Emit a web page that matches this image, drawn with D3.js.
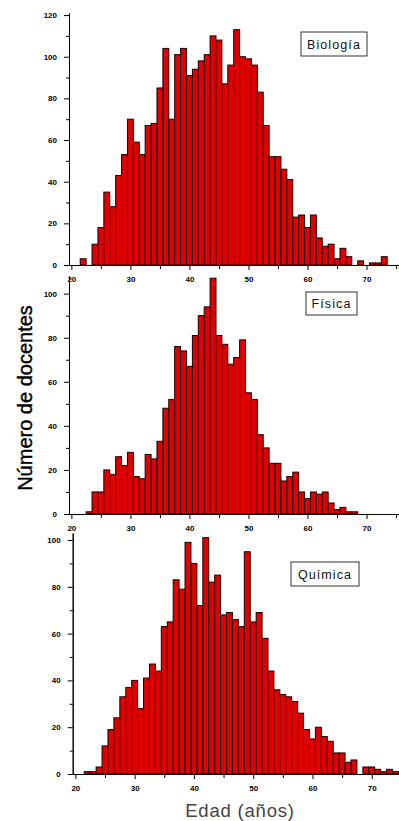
<!DOCTYPE html>
<html>
<head>
<meta charset="utf-8">
<script src="https://cdn.jsdelivr.net/npm/d3@7"></script>
<style>
  body { margin: 0; background: #fff; }
  svg { display: block; }
  .tick text { font-family: "Liberation Sans", Arial, sans-serif; font-size: 8px; font-weight: bold; fill: #000; }
</style>
</head>
<body>
<div id="chart"></div>
<script>
// edades (bins de 1 año)
const edades = [21, 22, 23, 24, 25, 26, 27, 28, 29, 30, 31, 32, 33, 34, 35, 36, 37, 38, 39, 40,
  41, 42, 43, 44, 45, 46, 47, 48, 49, 50, 51, 52, 53, 54, 55, 56, 57, 58, 59, 60,
  61, 62, 63, 64, 65, 66, 67, 68, 69, 70, 71, 72, 73, 74, 75];

const biologia = [0, 3, 0, 10, 18, 35, 28, 43, 53, 70, 59, 53, 67, 68, 85, 104, 70, 101, 104, 91,
  94, 98, 101, 110, 108, 87, 96, 113, 100, 99, 96, 83, 67, 52, 52, 46, 41, 23, 24, 18,
  24, 13, 9, 10, 3, 8, 4, 0, 2, 0, 1, 1, 4, 0, 0];

const fisica = [0, 0, 1, 10, 10, 20, 18, 26, 22, 28, 17, 16, 27, 25, 33, 48, 52, 76, 74, 67,
  81, 90, 94, 107, 81, 77, 68, 71, 79, 55, 52, 36, 30, 23, 23, 15, 17, 19, 10, 7,
  10, 9, 10, 5, 2, 3, 1, 1, 0, 0, 0, 0, 0, 0, 0];

const quimica = [0, 1, 1, 3, 12, 19, 24, 33, 37, 40, 28, 41, 47, 44, 63, 65, 83, 79, 99, 90,
  72, 101, 82, 85, 68, 69, 66, 63, 95, 65, 69, 58, 44, 36, 34, 33, 31, 26, 19, 15,
  20, 16, 14, 9, 9, 5, 6, 0, 3, 3, 2, 1, 2, 1, 0];

const ticksX = [20, 30, 40, 50, 60, 70];
const ticksXMenor = [25, 35, 45, 55, 65, 75];
const ticksYBio = [0, 20, 40, 60, 80, 100, 120];
const ticksY = [0, 20, 40, 60, 80, 100];

const W = 399, H = 821;

const paneles = [
  { nombre: 'Biología', valores: biologia, ticks: ticksYBio, yMax: 121,
    x0: 69, xDom: [19.6, 75.5], top: 13, bottom: 265,
    caja: { x: 301, y: 32, w: 66, h: 24 } },
  { nombre: 'Física', valores: fisica, ticks: ticksY, yMax: 108,
    x0: 69, xDom: [19.6, 75.5], top: 276, bottom: 514,
    caja: { x: 306, y: 292, w: 51, h: 23 } },
  { nombre: 'Química', valores: quimica, ticks: ticksY, yMax: 103,
    x0: 72.7, xDom: [19.55, 74.6], top: 533, bottom: 774,
    caja: { x: 291, y: 562, w: 68, h: 24 } }
];

const svg = d3.select('#chart').append('svg')
  .attr('width', W)
  .attr('height', H);

paneles.forEach(p => {
  const x = d3.scaleLinear().domain(p.xDom).range([p.x0, W]);
  const y = d3.scaleLinear().domain([0, p.yMax]).range([p.bottom, p.top]);
  const g = svg.append('g');

  const datos = edades.map((e, i) => ({ edad: e, n: p.valores[i] })).filter(d => d.n > 0);

  g.append('g').selectAll('rect')
    .data(datos)
    .enter()
    .append('rect')
    .attr('x', d => x(d.edad - 0.5))
    .attr('width', d => x(d.edad + 0.5) - x(d.edad - 0.5))
    .attr('y', d => y(d.n))
    .attr('height', d => y(0) - y(d.n))
    .style('fill', '#e00000')
    .style('stroke', '#200000')
    .style('stroke-width', 1);

  // eje y
  const menoresY = d3.range(p.ticks.length - 1).map(i => p.ticks[i] + 10)
    .filter(v => v < p.yMax);
  g.append('g')
    .attr('transform', 'translate(' + p.x0 + ',0)')
    .call(d3.axisLeft(y).tickValues(menoresY).tickSize(3).tickSizeOuter(0).tickFormat(''));
  g.append('g')
    .attr('transform', 'translate(' + p.x0 + ',0)')
    .call(d3.axisLeft(y).tickValues(p.ticks).tickSize(5).tickSizeOuter(0).tickPadding(7));

  // eje x
  g.append('g')
    .attr('transform', 'translate(0,' + p.bottom + ')')
    .call(d3.axisBottom(x).tickValues(ticksXMenor).tickSize(4).tickSizeOuter(0).tickFormat(''));
  g.append('g')
    .attr('transform', 'translate(0,' + p.bottom + ')')
    .call(d3.axisBottom(x).tickValues(ticksX).tickSize(5).tickSizeOuter(0).tickPadding(6));

  // leyenda
  g.append('rect')
    .attr('x', p.caja.x)
    .attr('y', p.caja.y)
    .attr('width', p.caja.w)
    .attr('height', p.caja.h)
    .style('fill', '#fff')
    .style('stroke', '#333')
    .style('stroke-width', 1);
  g.append('text')
    .text(p.nombre)
    .attr('x', p.caja.x + p.caja.w / 2)
    .attr('y', p.caja.y + p.caja.h / 2 + 4.5)
    .style('text-anchor', 'middle')
    .style('font-family', '"Liberation Sans", Arial, sans-serif')
    .style('font-size', '12.5px')
    .style('letter-spacing', '1.1px')
    .style('fill', '#111');
});

svg.selectAll('.domain').style('stroke', '#000').style('stroke-width', 1);
svg.selectAll('.tick line').style('stroke', '#000');

svg.append('text')
  .text('Número de docentes')
  .attr('transform', 'translate(32,398) rotate(-90)')
  .style('text-anchor', 'middle')
  .style('font-family', '"Liberation Sans", Arial, sans-serif')
  .style('font-size', '20px')
  .style('fill', '#000')
  .style('stroke', '#000')
  .style('stroke-width', 0.4);

svg.append('text')
  .text('Edad (años)')
  .attr('x', 240)
  .attr('y', 817)
  .style('text-anchor', 'middle')
  .style('font-family', '"Liberation Sans", Arial, sans-serif')
  .style('font-size', '18.5px')
  .style('letter-spacing', '0.8px')
  .style('fill', '#444');
</script>
</body>
</html>
